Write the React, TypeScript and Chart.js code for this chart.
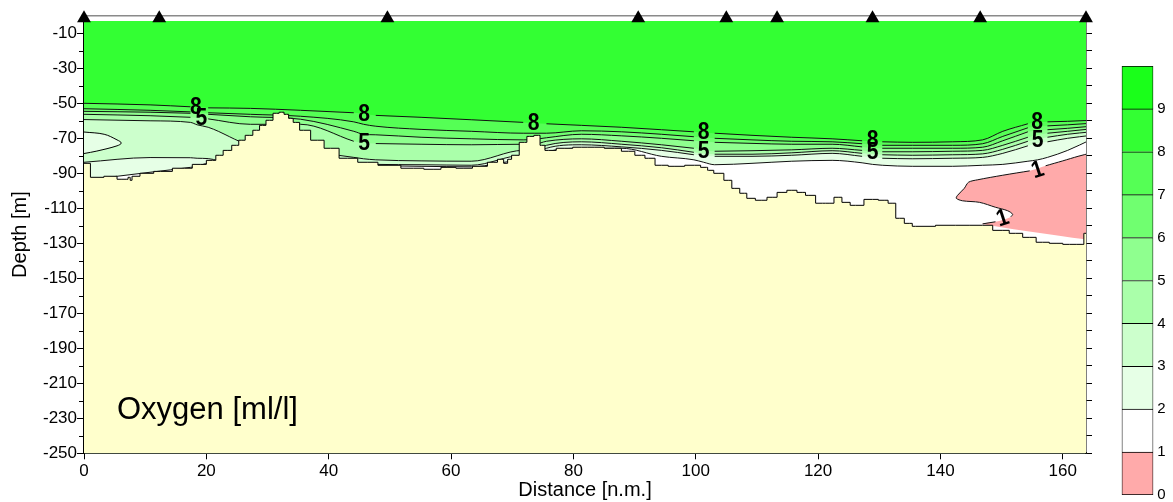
import { useEffect, useRef } from 'react';
import { Chart, registerables } from 'chart.js';

Chart.register(...registerables);

const FONT = "'Liberation Sans', Arial, Helvetica, sans-serif";

// ---------- axes ----------
const X_MAX = 163.8;
const DEPTH_MIN = -250;
const DEPTH_MAX = 0;
const X_TICKS = [0, 20, 40, 60, 80, 100, 120, 140, 160];
const Y_TICKS = [-250, -230, -210, -190, -170, -150, -130, -110, -90, -70, -50, -30, -10];
const Y_MINOR_TICKS = [-240, -220, -200, -180, -160, -140, -120, -100, -80, -60, -40, -20];
const Y_RIGHT_TICKS = [-250, -240, -230, -220, -210, -200, -190, -180, -170, -160, -150, -140, -130, -120, -110, -100, -90, -80, -70, -60, -50, -40, -30, -20, -10];

// ---------- stations ----------
const STATION_X = [0, 12.3, 49.6, 90.6, 105.0, 113.3, 128.9, 146.5, 163.8];
const STATION_DEPTH = -1.4;

// ---------- oxygen bands (ml/l) ----------
const LEVELS = [0, 1, 2, 3, 4, 5, 6, 7, 8, 9];
const BAND_COLORS = ['#ffaaaa', '#ffffff', '#e6ffe6', '#ccffcc', '#aaffaa', '#8fff8f', '#70ff70', '#55ff55', '#33ff33', '#1aff1a'];
const SEABED_COLOR = '#ffffcc';

// upper limit of data (first sampled depth)
const SURFACE_X = [0, 164.7];
const SURFACE_D = [-3, -3];

// ---------- contour isolines (depth in m along distance) ----------
const GRID_X = [0, 10.8, 17.4, 18.5, 20.3, 27.2, 35.4, 44.1, 45.7, 47.7, 55.1, 63.3, 71.8, 73.6, 75.6, 81.3, 87.9, 94.4, 99.7, 101.3, 103.1, 109.2, 115.7, 122.3, 127.2, 128.9, 130.5, 135.4, 142.0, 146.9, 150.2, 154.3, 155.9, 157.5, 160.8, 164.7];
const O2_8 = [-50.0, -50.9, -52.0, null, -52.6, -52.9, -54.0, -55.4, null, -56.9, -58.0, -59.4, -60.9, null, -61.7, -62.6, -63.7, -65.1, -66.3, null, -67.1, -68.3, -69.4, -70.3, -71.4, null, -72.0, -72.3, -72.0, -70.9, -66.0, -61.7, null, -60.6, -60.3, -59.7];
const O2_7 = [-53.1, -54.0, -54.9, null, -55.4, -56.3, -57.4, -60.6, -62.0, -63.1, -64.9, -66.0, -67.1, -67.1, -67.1, -65.7, -66.3, -67.7, -69.1, null, -70.0, -70.9, -71.7, -72.0, -73.1, null, -74.0, -74.0, -74.0, -73.1, -68.9, -64.0, null, -62.9, -62.3, -61.4];
const O2_6 = [-54.6, -55.1, -55.7, null, -56.3, -57.7, -59.1, -66.0, -67.7, -68.0, -69.4, -70.3, -70.9, -70.6, -69.7, -67.7, -68.6, -70.0, -71.4, null, -72.3, -72.9, -73.4, -73.4, -74.9, null, -75.7, -75.7, -75.7, -75.1, -71.4, -66.3, null, -65.1, -64.3, -63.1];
const O2_5 = [-56.3, -57.1, -58.0, null, -58.9, -62.0, -62.0, -71.7, null, -73.0, -73.4, -73.7, -73.4, -73.4, -71.7, -70.3, -71.7, -73.7, -75.7, null, -77.4, -77.1, -76.6, -75.7, -76.9, null, -77.7, -77.7, -77.4, -76.9, -74.0, -69.4, null, -67.1, -66.0, -64.6];
const O2_4 = [-59.3, -60.0, -60.9, -62.3, -63.7, -74.0, -76.9, -80.9, -81.7, -82.3, -82.9, -83.1, -76.9, -76.9, -74.0, -72.0, -73.4, -75.4, -78.0, null, -79.1, -79.1, -78.3, -77.1, -78.6, null, -79.4, -79.7, -79.4, -78.9, -76.3, -71.7, null, -69.4, -67.7, -66.3];
const O2_3 = [-83.7, -81.0, -81.1, -81.4, -81.6, -88.3, -88.3, -84.3, -84.6, -84.9, -85.1, -85.4, -79.7, -79.7, -75.7, -73.7, -74.9, -76.9, -79.4, null, -80.3, -80.3, -79.7, -78.6, -80.3, null, -81.4, -81.7, -81.4, -80.9, -78.6, -74.3, null, -72.0, -70.0, -68.3];
const O2_2 = [-94.0, -89.4, -86.6, -86.0, -84.3, -91.1, -94.0, -85.7, -85.7, -85.7, -86.0, -86.3, -82.6, -82.6, -78.0, -75.7, -75.7, -80.3, -82.3, -83.7, -85.1, -84.3, -83.1, -82.6, -84.0, -84.9, -85.4, -86.0, -86.0, -85.4, -84.9, -83.1, -82.3, -80.9, -76.9, -70.6];

// closed 3 ml/l lens at the western end
const LENS_X = [0, 3.3, 5.4, 6.1, 5.4, 2.1, 0];
const LENS_D = [-66.4, -67.7, -70.9, -72.7, -74.3, -77.3, -78.7];

// 1 ml/l isoline (hypoxic core in the east)
const O2_1_X = [164.7, 162.5, 160.0, 157.2, 155.9, 154.6, 150.2, 146.1, 144.6, 143.9, 142.8, 142.6, 143.6, 146.4, 149.0, 151.0, 151.8, 151.5, 150.2, 149.0, 146.9];
const O2_1_D = [-78.3, -80.3, -82.9, -85.7, null, -88.6, -91.1, -93.7, -95.1, -98.6, -102.6, -104.3, -105.7, -106.6, -109.4, -111.4, -113.4, -114.9, null, -117.7, -118.9];
const HYPOXIC_EDGE_X = [163.6, 164.7];
const HYPOXIC_EDGE_D = [-127.7, -127.7];

// ---------- bottom profile ----------
const SEABED_X = [0, 1.0, 1.1, 5.4, 5.4, 7.0, 7.4, 7.7, 8.0, 10.3, 12.5, 16.4, 19.0, 21.0, 22.1, 23.4, 24.9, 25.7, 27.0, 28.2, 29.2, 30.3, 31.5, 32.3, 33.1, 33.8, 34.6, 35.9, 38.2, 40.3, 43.1, 46.4, 49.7, 53.9, 57.2, 59.5, 62.1, 64.9, 67.0, 68.2, 69.0, 69.5, 70.3, 72.0, 72.8, 74.3, 74.8, 75.9, 78.5, 81.3, 83.4, 86.7, 89.0, 91.1, 92.3, 94.4, 96.6, 99.8, 101.8, 102.1, 103.8, 105.4, 106.4, 108.0, 108.7, 110.8, 112.5, 114.1, 115.7, 117.4, 118.5, 120.7, 121.8, 123.4, 124.4, 126.1, 128.9, 130.8, 132.1, 133.3, 134.9, 135.9, 142.5, 146.9, 150.2, 152.3, 154.6, 156.7, 158.9, 161.1, 163.3, 163.6, 164.7];
const SEABED_D = [-84.3, -84.3, -92.3, -91.7, -93.4, -93.4, -92.3, -94.0, -91.7, -90.0, -88.9, -87.1, -84.9, -82.6, -79.7, -76.9, -74.0, -71.1, -68.3, -65.4, -62.6, -59.7, -55.7, -55.1, -56.3, -58.6, -60.9, -65.4, -71.1, -75.7, -81.4, -83.7, -85.4, -87.1, -87.7, -86.6, -87.1, -86.0, -83.7, -82.0, -84.3, -82.0, -79.7, -72.3, -68.9, -68.3, -74.0, -76.9, -75.7, -75.1, -75.1, -75.7, -77.4, -79.7, -81.4, -85.4, -86.0, -85.4, -86.6, -88.3, -90.0, -94.0, -98.6, -101.4, -104.3, -105.4, -103.7, -100.9, -99.7, -100.9, -102.6, -107.1, -107.1, -103.7, -106.6, -108.3, -104.9, -105.4, -107.1, -115.7, -118.6, -120.3, -119.7, -119.7, -122.6, -124.3, -126.6, -129.4, -130.0, -130.6, -130.6, -124.3, -124.3];

// ---------- contour labels ----------
const LABEL_TEXT = ['8', '5', '8', '5', '8', '8', '5', '8', '5', '8', '5', '1', '1'];
const LABEL_X = [18.3, 19.2, 45.8, 45.8, 73.5, 101.3, 101.3, 128.9, 128.9, 155.8, 155.9, 155.9, 150.2];
const LABEL_D = [-52.6, -58.6, -56.5, -73.1, -61.4, -66.6, -77.4, -71.1, -78.0, -61.1, -70.9, -88.3, -115.9];
const LABEL_ANGLE = [0, 0, 0, 0, 0, 0, 0, 0, 0, 0, 0, -18, -18];

// ---------- colour bar ----------
const CB_TICKS = LEVELS;
const CB_STEP = [1, 1, 1, 1, 1, 1, 1, 1, 1, 1];

const pts = (xs: number[], ys: (number | null)[]) => xs.map((x, i) => ({ x, y: ys[i] }));

Chart.defaults.font.family = FONT;
Chart.defaults.color = '#000';

const minorTicks = {
  id: 'minorTicks',
  afterDraw(chart: any) {
    const { ctx, chartArea } = chart;
    const ys = chart.scales.y;
    ctx.save();
    ctx.strokeStyle = '#000';
    ctx.lineWidth = 1;
    Y_MINOR_TICKS.forEach((v) => {
      const py = Math.round(ys.getPixelForValue(v)) + 0.5;
      ctx.beginPath();
      ctx.moveTo(chartArea.left - 5, py);
      ctx.lineTo(chartArea.left, py);
      ctx.stroke();
    });
    ctx.restore();
  },
};

const labelsPlugin = {
  id: 'contourLabels',
  afterDatasetsDraw(chart: any) {
    const { ctx, chartArea } = chart;
    const xs = chart.scales.x;
    const ys = chart.scales.y;
    ctx.save();
    ctx.fillStyle = '#000';
    ctx.textAlign = 'center';
    ctx.textBaseline = 'middle';
    ctx.font = `bold 24px ${FONT}`;
    LABEL_TEXT.forEach((t, i) => {
      const px = xs.getPixelForValue(LABEL_X[i]);
      const py = ys.getPixelForValue(LABEL_D[i]);
      ctx.save();
      ctx.translate(px, py);
      ctx.rotate((LABEL_ANGLE[i] * Math.PI) / 180);
      ctx.scale(0.88, 1);
      ctx.fillText(t, 0, 0);
      ctx.restore();
    });
    ctx.font = `31px ${FONT}`;
    ctx.textAlign = 'left';
    ctx.textBaseline = 'alphabetic';
    ctx.fillText('Oxygen [ml/l]', chartArea.left + 33, chartArea.bottom - 34);
    ctx.restore();
  },
};

export default function App() {
  const mainRef = useRef<HTMLCanvasElement>(null);
  const cbRef = useRef<HTMLCanvasElement>(null);

  useEffect(() => {
    if (!mainRef.current || !cbRef.current) return;

    const none = { pointRadius: 0, pointHoverRadius: 0 };
    const contours = [
      { level: 8, d: O2_8 },
      { level: 7, d: O2_7 },
      { level: 6, d: O2_6 },
      { level: 5, d: O2_5 },
      { level: 4, d: O2_4 },
      { level: 3, d: O2_3 },
      { level: 2, d: O2_2 },
    ];

    const ds: any[] = [];
    ds.push({
      ...none,
      data: pts(SURFACE_X, SURFACE_D),
      fill: 'start',
      backgroundColor: BAND_COLORS[8],
      borderWidth: 0,
      borderColor: 'rgba(0,0,0,0)',
    });
    contours.forEach((c) => {
      ds.push({
        ...none,
        data: pts(GRID_X, c.d),
        fill: 'start',
        spanGaps: true,
        cubicInterpolationMode: 'monotone',
        backgroundColor: BAND_COLORS[c.level - 1],
        borderWidth: 0,
        borderColor: 'rgba(0,0,0,0)',
      });
    });
    ds.push({
      ...none,
      data: pts(LENS_X, LENS_D),
      fill: 'shape',
      tension: 0.35,
      backgroundColor: BAND_COLORS[2],
      borderColor: '#000',
      borderWidth: 1,
    });
    ds.push({
      ...none,
      data: pts(O2_1_X.concat(HYPOXIC_EDGE_X), (O2_1_D as (number | null)[]).concat(HYPOXIC_EDGE_D)),
      fill: 'shape',
      spanGaps: true,
      tension: 0.3,
      backgroundColor: BAND_COLORS[0],
      borderWidth: 0,
      borderColor: 'rgba(0,0,0,0)',
    });
    contours.forEach((c) => {
      ds.push({
        ...none,
        data: pts(GRID_X, c.d),
        fill: false,
        spanGaps: false,
        cubicInterpolationMode: 'monotone',
        borderColor: '#111',
        borderWidth: 1,
      });
    });
    ds.push({
      ...none,
      data: pts(O2_1_X, O2_1_D),
      fill: false,
      spanGaps: false,
      tension: 0.3,
      borderColor: '#111',
      borderWidth: 1,
    });
    ds.push({
      ...none,
      data: pts(SEABED_X, SEABED_D),
      fill: 'start',
      stepped: 'middle',
      backgroundColor: SEABED_COLOR,
      borderColor: '#000',
      borderWidth: 1,
    });
    ds.push({
      data: STATION_X.map((x) => ({ x, y: STATION_DEPTH })),
      showLine: false,
      pointStyle: 'triangle',
      pointRadius: 8,
      pointHoverRadius: 8,
      backgroundColor: '#000',
      borderColor: '#000',
      borderWidth: 0,
      clip: false,
    });
    ds.forEach((d, i) => {
      d.order = ds.length - i;
    });

    const main = new Chart(mainRef.current, {
      type: 'line',
      data: { datasets: ds },
      plugins: [minorTicks, labelsPlugin],
      options: {
        animation: false,
        responsive: false,
        devicePixelRatio: 1,
        events: [],
        layout: { padding: { left: 0, right: 81, top: 15.8, bottom: 0 } },
        plugins: { legend: { display: false }, tooltip: { enabled: false } },
        scales: {
          x: {
            type: 'linear',
            position: 'bottom',
            min: 0,
            max: X_MAX,
            z: 1,
            afterBuildTicks: (s: any) => {
              s.ticks = X_TICKS.map((v) => ({ value: v }));
            },
            afterFit: (s: any) => {
              s.height = 48.7;
            },
            ticks: { font: { size: 17 }, color: '#000', padding: 2, maxRotation: 0, autoSkip: false, callback: (v: any) => String(v) },
            grid: { drawOnChartArea: false, drawTicks: true, tickLength: 6, tickColor: '#000' },
            border: { display: true, color: '#333', width: 2 },
            title: { display: true, text: 'Distance [n.m.]', font: { size: 20 }, color: '#000', padding: 0 },
          },
          xTop: {
            type: 'linear',
            position: 'top',
            min: 0,
            max: X_MAX,
            ticks: { display: false },
            grid: { display: false, drawTicks: false },
            border: { display: true, color: '#8a8a8a', width: 1.5 },
            afterFit: (s: any) => {
              s.height = 0;
            },
          },
          y: {
            type: 'linear',
            position: 'left',
            min: DEPTH_MIN,
            max: DEPTH_MAX,
            z: 1,
            afterBuildTicks: (s: any) => {
              s.ticks = Y_TICKS.map((v) => ({ value: v }));
            },
            afterFit: (s: any) => {
              s.width = 84;
            },
            ticks: { font: { size: 17 }, color: '#000', padding: 0, autoSkip: false, callback: (v: any) => String(v) },
            grid: { drawOnChartArea: false, drawTicks: true, tickLength: 7, tickColor: '#000' },
            border: { display: true, color: '#000', width: 2 },
            title: { display: true, text: 'Depth [m]', font: { size: 20 }, color: '#000', padding: { top: 8, bottom: 0 } },
          },
          y2: {
            type: 'linear',
            position: 'right',
            min: DEPTH_MIN,
            max: DEPTH_MAX,
            z: 1,
            afterBuildTicks: (s: any) => {
              s.ticks = Y_RIGHT_TICKS.map((v) => ({ value: v }));
            },
            afterFit: (s: any) => {
              s.width = 6;
            },
            ticks: { display: false },
            grid: { drawOnChartArea: false, drawTicks: true, tickLength: 6, tickColor: '#000' },
            border: { display: true, color: '#000', width: 1.5 },
          },
        },
      } as any,
    });

    const cb = new Chart(cbRef.current, {
      type: 'bar',
      data: {
        labels: [''],
        datasets: BAND_COLORS.map((c, i) => ({
          data: [CB_STEP[i]],
          backgroundColor: c,
          borderColor: '#000',
          borderWidth: i === 0 ? 1 : { top: 1, left: 1, right: 1, bottom: 0 },
          borderSkipped: false,
          barPercentage: 1,
          categoryPercentage: 1,
        })),
      },
      options: {
        animation: false,
        responsive: false,
        devicePixelRatio: 1,
        events: [],
        layout: { padding: { left: 11.7, right: 0, top: 16, bottom: 15 } },
        plugins: { legend: { display: false }, tooltip: { enabled: false } },
        scales: {
          x: { stacked: true, display: false },
          y: {
            stacked: true,
            position: 'right',
            min: 0,
            max: 10,
            afterBuildTicks: (s: any) => {
              s.ticks = CB_TICKS.map((v) => ({ value: v }));
            },
            afterFit: (s: any) => {
              s.width = 19.7;
            },
            ticks: { font: { size: 15 }, color: '#000', padding: 4 },
            grid: { display: false, drawTicks: false },
            border: { display: false },
          },
        },
      } as any,
    });

    return () => {
      main.destroy();
      cb.destroy();
    };
  }, []);

  return (
    <div style={{ position: 'fixed', left: 0, top: 0, width: 1173, height: 502, background: '#fff' }}>
      <canvas ref={mainRef} width={1173} height={502} style={{ position: 'absolute', left: 0, top: 0, width: 1173, height: 502 }} />
      <canvas ref={cbRef} width={63} height={460} style={{ position: 'absolute', left: 1110, top: 50, width: 63, height: 460 }} />
    </div>
  );
}
